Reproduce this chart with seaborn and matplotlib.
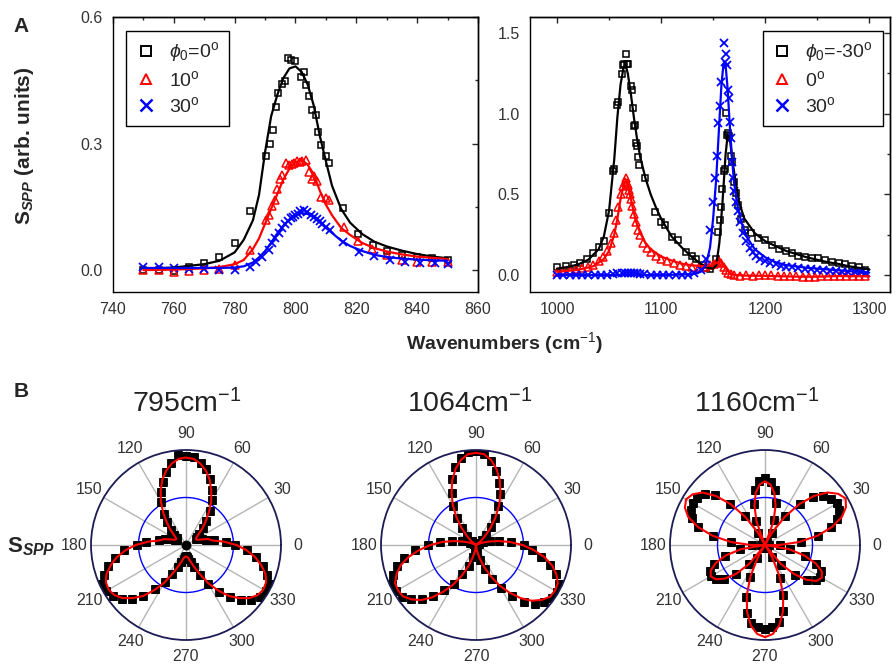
import numpy as np
import matplotlib
matplotlib.use("Agg")
import matplotlib.pyplot as plt
import seaborn as sns
from matplotlib import font_manager
from matplotlib.ticker import MultipleLocator
from matplotlib.lines import Line2D

# ---------------------------------------------------------------- data
# Panel A, left: 795 cm-1 band
A1_sq_x = [750, 755, 760, 765, 770, 775, 780, 785, 790.4, 791.5, 792.6, 793.7, 794.4, 795.4, 796.4,
           797.5, 798.6, 799.7, 801.7, 802.7, 803.4, 804.4, 805.5, 806.6, 807.5, 808.5, 809.9, 811.0,
           815.5, 820.5, 825.5, 830, 835, 840, 845, 850]
A1_sq_y = [0.0, 0.0, -0.003, 0.008, 0.017, 0.032, 0.063, 0.14, 0.27, 0.30, 0.333, 0.386, 0.42, 0.44,
           0.449, 0.502, 0.498, 0.495, 0.457, 0.47, 0.439, 0.413, 0.379, 0.368, 0.328, 0.296, 0.27,
           0.254, 0.148, 0.085, 0.06, 0.045, 0.036, 0.031, 0.028, 0.025]
A1_tri_x = [750, 755, 760, 765, 770, 775, 780, 785, 790.3, 791.2, 792.3, 793.2, 793.9, 794.8, 795.6,
            796.9, 797.8, 798.7, 799.6, 800.5, 801.4, 802.3, 803.3, 804.4, 805.5, 806.2, 807.0, 808.3,
            809.9, 811.0, 815.9, 820.7, 825.2, 830, 835, 840, 845, 850]
A1_tri_y = [0.0, 0.0, -0.005, -0.003, 0.0, 0.003, 0.013, 0.048, 0.118, 0.13, 0.152, 0.167, 0.193,
            0.217, 0.225, 0.254, 0.25, 0.252, 0.255, 0.258, 0.256, 0.258, 0.262, 0.233, 0.215, 0.222,
            0.21, 0.174, 0.17, 0.166, 0.103, 0.07, 0.05, 0.036, 0.025, 0.02, 0.02, 0.018]
A1_x_x = [750, 755, 760, 765, 770, 775, 780, 785, 787, 789, 791.2, 792.3, 793.4, 794.5, 795.6, 796.7,
          797.5, 798.4, 799.2, 800, 800.8, 801.6, 802.7, 803.8, 805, 806.1, 807.2, 808, 808.8, 810,
          811.5, 815.6, 820.9, 825.9, 831, 836, 841, 846, 850]
A1_x_y = [0.008, 0.008, 0.006, 0.003, 0.002, 0.0, 0.0, 0.008, 0.02, 0.032, 0.047, 0.063, 0.075, 0.087,
          0.099, 0.11, 0.116, 0.123, 0.127, 0.13, 0.134, 0.14, 0.142, 0.137, 0.13, 0.126, 0.12, 0.116,
          0.11, 0.103, 0.095, 0.067, 0.043, 0.033, 0.025, 0.02, 0.016, 0.016, 0.015]
A1_fit_x = [750, 760, 770, 775, 780, 783, 786, 788, 790, 792, 794, 796, 798, 800, 802, 804, 806, 808,
            810, 812, 815, 818, 822, 826, 830, 835, 840, 845, 850]
A1_fit_black = [0.003, 0.006, 0.014, 0.022, 0.042, 0.072, 0.118, 0.178, 0.28, 0.365, 0.415, 0.455,
                0.478, 0.483, 0.47, 0.44, 0.39, 0.318, 0.258, 0.2, 0.145, 0.112, 0.085, 0.067, 0.056,
                0.046, 0.038, 0.032, 0.028]
A1_fit_red = [0.0, 0.001, 0.004, 0.007, 0.014, 0.024, 0.05, 0.075, 0.11, 0.145, 0.18, 0.215, 0.24,
              0.256, 0.261, 0.25, 0.227, 0.188, 0.155, 0.13, 0.1, 0.083, 0.064, 0.052, 0.044, 0.037,
              0.032, 0.029, 0.026]
A1_fit_blue = [0.005, 0.005, 0.005, 0.005, 0.006, 0.009, 0.018, 0.03, 0.045, 0.065, 0.087, 0.105,
               0.12, 0.13, 0.135, 0.133, 0.125, 0.113, 0.1, 0.088, 0.07, 0.057, 0.045, 0.036, 0.031,
               0.027, 0.025, 0.023, 0.022]
A1_labels = [r"$\phi_{\mathit{0}}$=0$^{\mathrm{o}}$", r"10$^{\mathrm{o}}$", r"30$^{\mathrm{o}}$"]

# Panel A, right: 1000-1300 cm-1
A2_sq_x = [1000, 1009, 1016, 1022, 1029, 1035, 1040, 1045, 1050, 1054,
           1055, 1058, 1059, 1062, 1063, 1064, 1066, 1067, 1068, 1071,
           1072, 1073, 1074, 1075, 1076, 1077, 1078, 1079, 1085, 1094,
           1100, 1104, 1110, 1116, 1124, 1130, 1134, 1140, 1143, 1147,
           1153, 1155, 1157, 1158, 1159, 1160, 1161, 1162, 1163, 1164,
           1165, 1167, 1168, 1170, 1172, 1174, 1177, 1181, 1186, 1193,
           1200, 1207, 1213, 1220, 1226, 1232, 1238, 1245, 1251, 1258,
           1264, 1271, 1277, 1283, 1290, 1296]
A2_sq_y = [0.052, 0.056, 0.062, 0.076, 0.097, 0.134, 0.176, 0.213, 0.382, 0.647,
           0.66, 1.054, 1.07, 1.246, 1.30, 1.31, 1.37, 1.31, 1.31, 1.17,
           1.15, 1.033, 0.924, 0.93, 0.816, 0.8, 0.733, 0.682, 0.60, 0.393,
           0.33, 0.31, 0.233, 0.217, 0.145, 0.12, 0.097, 0.06, 0.041, 0.04,
           0.1, 0.27, 0.34, 0.42, 0.533, 0.647, 0.66, 1.006, 0.868, 0.878,
           0.86, 0.738, 0.7, 0.579, 0.506, 0.434, 0.35, 0.279, 0.258, 0.227,
           0.217, 0.186, 0.159, 0.151, 0.134, 0.118, 0.114, 0.103, 0.103, 0.093,
           0.083, 0.072, 0.068, 0.056, 0.052, 0.031]
A2_tri_x = [1000, 1006, 1012, 1018, 1024, 1030, 1035, 1040, 1044, 1048,
            1052, 1055, 1057, 1059, 1061, 1063, 1065, 1066, 1067, 1068,
            1069, 1070, 1071, 1072, 1074, 1076, 1078, 1080, 1083, 1086,
            1090, 1095, 1100, 1106, 1112, 1118, 1124, 1130, 1136, 1142,
            1147, 1151, 1154, 1156, 1158, 1160, 1162, 1164, 1167, 1170,
            1176, 1182, 1188, 1194, 1200, 1206, 1212, 1218, 1224, 1230,
            1236, 1242, 1248, 1254, 1260, 1266, 1272, 1278, 1284, 1290, 1296]
A2_tri_y = [0.02, 0.025, 0.03, 0.035, 0.042, 0.052, 0.065, 0.09, 0.115, 0.15,
            0.2, 0.26, 0.34, 0.42, 0.5, 0.55, 0.58, 0.6, 0.57, 0.56,
            0.53, 0.5, 0.47, 0.43, 0.38, 0.33, 0.28, 0.25, 0.2, 0.17,
            0.145, 0.12, 0.1, 0.085, 0.072, 0.062, 0.057, 0.053, 0.05, 0.052,
            0.06, 0.07, 0.08, 0.09, 0.075, 0.05, 0.03, 0.015, 0.005, 0.0,
            -0.003, 0.0, -0.003, 0.0, -0.002, 0.0, -0.003, -0.005, -0.005, -0.008,
            -0.01, -0.012, -0.01, -0.008, -0.005, -0.005, -0.003, -0.005, -0.006, -0.005, -0.008]
A2_x_x = [1000, 1006, 1012, 1018, 1024, 1030, 1036, 1042, 1048, 1054,
          1058, 1062, 1065, 1068, 1071, 1074, 1077, 1080, 1084, 1090,
          1096, 1102, 1108, 1114, 1120, 1126, 1132, 1138, 1143, 1147,
          1150, 1152, 1154, 1155, 1157, 1158, 1160, 1161, 1162, 1163,
          1164, 1165, 1166, 1167, 1168, 1169, 1170, 1172, 1174, 1176,
          1179, 1182, 1185, 1188, 1191, 1195, 1200, 1205, 1210, 1215,
          1220, 1226, 1232, 1238, 1244, 1250, 1256, 1262, 1268, 1274,
          1280, 1286, 1292, 1297]
A2_x_y = [0.0, 0.0, 0.0, 0.0, 0.0, 0.0, 0.0, 0.0, 0.002, 0.005,
          0.01, 0.015, 0.015, 0.012, 0.015, 0.01, 0.012, 0.008, 0.005, 0.0,
          0.0, 0.0, 0.0, 0.0, 0.0, 0.003, 0.01, 0.03, 0.1, 0.28,
          0.45, 0.6, 0.74, 0.94, 1.05, 1.2, 1.44, 1.32, 1.37, 1.3,
          1.15, 1.1, 0.95, 0.85, 0.7, 0.6, 0.52, 0.45, 0.4, 0.33,
          0.26, 0.21, 0.17, 0.14, 0.12, 0.1, 0.085, 0.075, 0.066, 0.058,
          0.052, 0.048, 0.044, 0.04, 0.036, 0.033, 0.03, 0.028, 0.025, 0.022,
          0.02, 0.018, 0.016, 0.014]
A2_fit_black_x = [1000, 1010, 1020, 1030, 1040, 1045, 1050, 1055, 1058, 1061,
                  1064, 1066, 1068, 1071, 1074, 1077, 1080, 1085, 1090, 1095,
                  1100, 1110, 1120, 1130, 1138, 1145, 1150, 1153, 1156, 1159,
                  1162, 1164, 1166, 1168, 1171, 1175, 1180, 1190, 1200, 1210,
                  1220, 1230, 1240, 1250, 1260, 1270, 1280, 1290, 1300]
A2_fit_black_y = [0.04, 0.05, 0.065, 0.095, 0.16, 0.24, 0.40, 0.72, 0.98, 1.18,
                  1.29, 1.30, 1.25, 1.12, 0.97, 0.84, 0.73, 0.6, 0.5, 0.42,
                  0.35, 0.24, 0.17, 0.11, 0.07, 0.045, 0.04, 0.06, 0.2, 0.45,
                  0.75, 0.87, 0.85, 0.74, 0.6, 0.45, 0.35, 0.26, 0.21, 0.18,
                  0.15, 0.13, 0.11, 0.095, 0.08, 0.07, 0.055, 0.045, 0.035]
A2_fit_red_x = [1000, 1020, 1035, 1045, 1050, 1055, 1058, 1061, 1064, 1066,
                1068, 1070, 1073, 1076, 1080, 1085, 1090, 1100, 1110, 1120,
                1130, 1140, 1148, 1153, 1157, 1160, 1163, 1166, 1170, 1180,
                1200, 1230, 1250, 1270, 1300]
A2_fit_red_y = [0.02, 0.032, 0.055, 0.1, 0.15, 0.25, 0.35, 0.47, 0.56, 0.585,
                0.56, 0.5, 0.41, 0.33, 0.26, 0.2, 0.16, 0.115, 0.09, 0.07,
                0.06, 0.055, 0.06, 0.075, 0.085, 0.065, 0.035, 0.012, 0.002, -0.003,
                -0.005, -0.01, -0.01, -0.006, -0.008]
A2_fit_blue_x = [1000, 1100, 1130, 1138, 1143, 1147, 1150, 1153, 1156, 1158,
                 1160, 1162, 1164, 1166, 1168, 1170, 1173, 1177, 1182, 1190,
                 1200, 1210, 1220, 1240, 1260, 1280, 1300]
A2_fit_blue_y = [0.0, 0.0, 0.005, 0.02, 0.06, 0.17, 0.35, 0.6, 0.95, 1.18,
                 1.31, 1.3, 1.15, 0.93, 0.74, 0.58, 0.44, 0.33, 0.24, 0.16,
                 0.11, 0.08, 0.062, 0.045, 0.035, 0.025, 0.015]
A2_labels = [r"$\phi_{\mathit{0}}$=-30$^{\mathrm{o}}$", r"0$^{\mathrm{o}}$", r"30$^{\mathrm{o}}$"]

# Panel B: polar plots, r sampled every 5 degrees from 0 to 355
POL_THETA_DEG = list(range(0, 360, 5))
POL_TITLES = ["795cm$^{-1}$", "1064cm$^{-1}$", "1160cm$^{-1}$"]
POL_REF_R = 0.5
POL_ANGLE_TICKS = [0, 30, 60, 90, 120, 150, 180, 210, 240, 270, 300, 330]

P1_fit = [0.53, 0.40, 0.28, 0.24, 0.17, 0.13, 0.12, 0.13, 0.17, 0.24, 0.32, 0.42,
          0.53, 0.63, 0.73, 0.81, 0.87, 0.91, 0.92, 0.91, 0.87, 0.81, 0.73, 0.63,
          0.53, 0.42, 0.32, 0.24, 0.17, 0.13, 0.12, 0.13, 0.17, 0.24, 0.28, 0.40,
          0.53, 0.64, 0.74, 0.82, 0.89, 0.93, 0.94, 0.92, 0.87, 0.79, 0.70, 0.58,
          0.46, 0.33, 0.24, 0.18, 0.14, 0.125, 0.12, 0.125, 0.14, 0.18, 0.24, 0.33,
          0.46, 0.58, 0.70, 0.79, 0.87, 0.92, 0.94, 0.93, 0.89, 0.82, 0.74, 0.64]
P1_obs = [0.52, 0.42, 0.30, 0.22, 0.18, 0.14, 0.12, 0.14, 0.18, 0.25, 0.33, 0.44,
          0.55, 0.64, 0.74, 0.83, 0.88, 0.93, 0.94, 0.95, 0.88, 0.80, 0.71, 0.62,
          0.52, 0.40, 0.31, 0.23, 0.16, 0.12, 0.11, 0.13, 0.18, 0.23, 0.29, 0.42,
          0.52, 0.66, 0.76, 0.85, 0.92, 0.97, 0.97, 0.94, 0.88, 0.81, 0.70, 0.57,
          0.45, 0.34, 0.25, 0.19, 0.15, 0.13, 0.12, 0.13, 0.15, 0.19, 0.25, 0.35,
          0.47, 0.60, 0.72, 0.82, 0.90, 0.95, 0.97, 0.96, 0.91, 0.84, 0.75, 0.64]
P1_center_theta = [0]
P1_center_r = [0.0]

P2_fit = [0.49, 0.36, 0.24, 0.14, 0.07, 0.02, 0.0, 0.02, 0.07, 0.14, 0.24, 0.36,
          0.49, 0.61, 0.73, 0.83, 0.91, 0.96, 0.97, 0.96, 0.91, 0.83, 0.73, 0.61,
          0.49, 0.36, 0.24, 0.14, 0.07, 0.02, 0.0, 0.02, 0.07, 0.14, 0.24, 0.36,
          0.48, 0.60, 0.72, 0.82, 0.89, 0.94, 0.95, 0.94, 0.89, 0.82, 0.72, 0.60,
          0.48, 0.36, 0.24, 0.14, 0.07, 0.02, 0.0, 0.02, 0.07, 0.14, 0.24, 0.36,
          0.49, 0.61, 0.73, 0.83, 0.90, 0.95, 0.96, 0.95, 0.90, 0.83, 0.73, 0.61]
P2_obs = [0.50, 0.37, 0.25, 0.15, 0.08, 0.03, 0.01, 0.03, 0.08, 0.15, 0.25, 0.35,
          0.47, 0.59, 0.70, 0.81, 0.90, 0.96, 0.99, 0.98, 0.93, 0.85, 0.74, 0.60,
          0.48, 0.35, 0.23, 0.13, 0.06, 0.02, 0.01, 0.02, 0.07, 0.15, 0.26, 0.38,
          0.51, 0.64, 0.77, 0.86, 0.93, 0.97, 0.97, 0.95, 0.89, 0.80, 0.70, 0.58,
          0.47, 0.34, 0.23, 0.13, 0.06, 0.02, 0.01, 0.03, 0.08, 0.16, 0.27, 0.39,
          0.52, 0.66, 0.79, 0.88, 0.94, 0.98, 0.99, 0.96, 0.90, 0.81, 0.70, 0.59]

P3_fit = [0.15, 0.36, 0.56, 0.73, 0.86, 0.94, 0.98, 0.94, 0.86, 0.73, 0.56, 0.36,
          0.15, 0.0, 0.26, 0.43, 0.56, 0.64, 0.67, 0.64, 0.56, 0.43, 0.26, 0.0,
          0.15, 0.36, 0.56, 0.73, 0.86, 0.93, 0.96, 0.93, 0.86, 0.73, 0.56, 0.36,
          0.15, 0.0, 0.26, 0.43, 0.55, 0.63, 0.66, 0.63, 0.55, 0.43, 0.26, 0.0,
          0.15, 0.36, 0.56, 0.73, 0.86, 0.94, 0.97, 0.94, 0.86, 0.73, 0.56, 0.36,
          0.15, 0.0, 0.26, 0.43, 0.57, 0.66, 0.69, 0.66, 0.57, 0.43, 0.26, 0.0]
P3_obs = [0.16, 0.38, 0.57, 0.72, 0.81, 0.86, 0.88, 0.85, 0.80, 0.72, 0.57, 0.37,
          0.14, 0.04, 0.28, 0.46, 0.59, 0.67, 0.71, 0.68, 0.59, 0.45, 0.27, 0.04,
          0.15, 0.37, 0.57, 0.74, 0.83, 0.87, 0.88, 0.86, 0.82, 0.73, 0.56, 0.36,
          0.14, 0.04, 0.27, 0.44, 0.57, 0.64, 0.66, 0.63, 0.56, 0.43, 0.26, 0.04,
          0.16, 0.37, 0.58, 0.74, 0.83, 0.87, 0.88, 0.87, 0.82, 0.72, 0.56, 0.38,
          0.15, 0.04, 0.27, 0.45, 0.58, 0.65, 0.67, 0.65, 0.57, 0.44, 0.27, 0.04]

# ---------------------------------------------------------------- style
sns.set_theme(style="white")
available = {f.name for f in font_manager.fontManager.ttflist}
SANS = "Liberation Sans" if "Liberation Sans" in available else "DejaVu Sans"
NARROW = "Liberation Sans Narrow" if "Liberation Sans Narrow" in available else SANS
narrow_ok = NARROW != SANS
plt.rcParams.update({
    "font.family": [SANS, "DejaVu Sans"],
    "mathtext.fontset": "custom",
    "mathtext.rm": NARROW,
    "mathtext.it": NARROW + ":italic",
    "mathtext.bf": SANS + ":bold",
    "mathtext.fallback": "stixsans",
    "axes.linewidth": 1.0,
    "axes.edgecolor": "black",
})
has_bfit = "mathtext.bfit" in plt.rcParams
if has_bfit:
    plt.rcParams["mathtext.bfit"] = SANS + ":bold:italic"
SUB = r"\mathbfit{SPP}" if has_bfit else r"\mathit{SPP}"

TICK_FS = 12 if narrow_ok else 11.5
POL_FS = 12 if narrow_ok else 11.5
LEG_FS = 15 if narrow_ok else 14
TITLE_FS = 22 if narrow_ok else 20.5
TICK_COLOR = "#333333"

W, H = 892, 666
fig = plt.figure(figsize=(W / 100, H / 100), dpi=100)


def draw_points(ax, x, y, marker, color, filled=False, ms=5.0, mew=1.1):
    sns.lineplot(x=x, y=y, ax=ax, marker=marker, linestyle="", color=color,
                 markersize=ms, markerfacecolor=color if filled else "none",
                 markeredgecolor=color, markeredgewidth=mew,
                 estimator=None, sort=False, legend=False)


def draw_line(ax, x, y, color, lw=1.6):
    sns.lineplot(x=x, y=y, ax=ax, color=color, linewidth=lw,
                 estimator=None, sort=False, legend=False)


def style_axes(ax, xmaj, xmin, ymaj, ymin):
    ax.xaxis.set_major_locator(MultipleLocator(xmaj))
    ax.xaxis.set_minor_locator(MultipleLocator(xmin))
    ax.yaxis.set_major_locator(MultipleLocator(ymaj))
    ax.yaxis.set_minor_locator(MultipleLocator(ymin))
    ax.tick_params(which="both", direction="out", colors="black", labelcolor=TICK_COLOR,
                   labelsize=TICK_FS, width=1.0, top=False, right=False)
    ax.tick_params(which="major", length=4)
    ax.tick_params(which="minor", length=2.5)
    for lab in ax.get_xticklabels() + ax.get_yticklabels():
        lab.set_fontfamily(NARROW)
    top = ax.secondary_xaxis("top")
    top.xaxis.set_major_locator(MultipleLocator(xmaj))
    top.xaxis.set_minor_locator(MultipleLocator(xmin))
    top.tick_params(which="both", direction="in", labeltop=False, width=1.0)
    top.tick_params(which="major", length=4)
    top.tick_params(which="minor", length=2.5)
    right = ax.secondary_yaxis("right")
    right.yaxis.set_major_locator(MultipleLocator(ymaj))
    right.yaxis.set_minor_locator(MultipleLocator(ymin))
    right.tick_params(which="both", direction="in", labelright=False, width=1.0)
    right.tick_params(which="major", length=4)
    right.tick_params(which="minor", length=2.5)
    ax.set_xlabel("")
    ax.set_ylabel("")


def legend(ax, labels, loc, anchor):
    handles = [
        Line2D([], [], marker="s", ls="", mfc="none", mec="black", mew=1.4, ms=7),
        Line2D([], [], marker="^", ls="", mfc="none", mec="red", mew=1.4, ms=7.5),
        Line2D([], [], marker="x", ls="", color="blue", mew=1.8, ms=8),
    ]
    leg = ax.legend(handles, labels, loc=loc, bbox_to_anchor=anchor, borderaxespad=0,
                    frameon=True, fancybox=False, edgecolor="black", framealpha=1,
                    prop={"family": NARROW, "size": LEG_FS}, handlelength=1.0,
                    handletextpad=0.7, labelspacing=0.3, borderpad=0.5)
    leg.get_frame().set_linewidth(1.0)


# ---------------------------------------------------------------- panel A left
axL = fig.add_axes([113 / W, 1 - 292 / H, 365 / W, 275 / H])
draw_points(axL, A1_sq_x, A1_sq_y, "s", "black")
draw_points(axL, A1_tri_x, A1_tri_y, "^", "red", ms=5.5)
draw_points(axL, A1_x_x, A1_x_y, "x", "blue", ms=6, mew=1.3)
draw_line(axL, A1_fit_x, A1_fit_black, "black")
draw_line(axL, A1_fit_x, A1_fit_red, "red")
draw_line(axL, A1_fit_x, A1_fit_blue, "blue")
axL.set_xlim(740, 860)
axL.set_ylim(-0.052, 0.6)
style_axes(axL, 20, 10, 0.3, 0.15)
legend(axL, A1_labels, "upper left", (0.036, 0.95))

# ---------------------------------------------------------------- panel A right
axR = fig.add_axes([530 / W, 1 - 292 / H, 360 / W, 275 / H])
draw_points(axR, A2_sq_x, A2_sq_y, "s", "black")
draw_points(axR, A2_tri_x, A2_tri_y, "^", "red", ms=5.5)
draw_points(axR, A2_x_x, A2_x_y, "x", "blue", ms=6, mew=1.3)
draw_line(axR, A2_fit_black_x, A2_fit_black_y, "black")
draw_line(axR, A2_fit_red_x, A2_fit_red_y, "red")
draw_line(axR, A2_fit_blue_x, A2_fit_blue_y, "blue")
axR.set_xlim(974, 1320)
axR.set_ylim(-0.105, 1.6)
style_axes(axR, 100, 50, 0.5, 0.25)
legend(axR, A2_labels, "upper right", (0.98, 0.95))

# ---------------------------------------------------------------- panel B polar
R = 95
centers = [(186, 545), (476, 545), (765, 545)]
fits = [P1_fit, P2_fit, P3_fit]
obss = [P1_obs, P2_obs, P3_obs]
theta = np.deg2rad(POL_THETA_DEG)
theta_closed = np.r_[theta, theta[0] + 2 * np.pi]
title_x = [187, 470, 757]
for i, ((cx, cy), fit, obs) in enumerate(zip(centers, fits, obss)):
    axp = fig.add_axes([(cx - R) / W, 1 - (cy + R) / H, 2 * R / W, 2 * R / H], projection="polar")
    axp.set_facecolor("white")
    draw_points(axp, theta, obs, "s", "black", filled=True, ms=6.2, mew=0.6)
    if i == 0:
        draw_points(axp, np.deg2rad(P1_center_theta), P1_center_r, "o", "black", filled=True, ms=6)
    draw_line(axp, theta_closed, np.r_[fit, fit[0]], "red", lw=1.5)
    axp.set_ylim(0, 1)
    axp.set_rgrids([POL_REF_R], labels=[""])
    axp.yaxis.grid(True, color="blue", linewidth=1.0)
    axp.set_xticks(np.deg2rad(POL_ANGLE_TICKS))
    axp.set_xticklabels([str(a) for a in POL_ANGLE_TICKS], fontsize=POL_FS,
                        color=TICK_COLOR, fontfamily=NARROW)
    axp.xaxis.grid(True, color="#b5b5b5", linewidth=1.0)
    axp.tick_params(axis="x", pad=-1)
    axp.spines["polar"].set_color("#1b1b55")
    axp.spines["polar"].set_linewidth(1.3)
    axp.set_axisbelow(True)
    axp.set_xlabel("")
    axp.set_ylabel("")
    fig.text(title_x[i] / W, 1 - 404 / H, POL_TITLES[i], ha="center", va="center",
             fontsize=TITLE_FS, fontfamily=NARROW, color="#222222")

# ---------------------------------------------------------------- figure texts
fig.text(21 / W, 1 - 26 / H, "A", fontsize=15, fontweight="bold", ha="center", va="center")
fig.text(21 / W, 1 - 392 / H, "B", fontsize=15, fontweight="bold", ha="center", va="center")
fig.text(25 / W, 1 - 146 / H, r"$\mathbf{S}_{" + SUB + r"}$ (arb. units)", rotation=90,
         fontsize=15, fontweight="bold", ha="center", va="center")
fig.text(505 / W, 1 - 343 / H, r"Wavenumbers (cm$^{-1}$)", fontsize=14, fontweight="bold",
         ha="center", va="center")
fig.text(31 / W, 1 - 547 / H, r"$\mathbf{S}_{" + SUB + r"}$", fontsize=16,
         ha="center", va="center")

fig.savefig("out.png", dpi=100)
